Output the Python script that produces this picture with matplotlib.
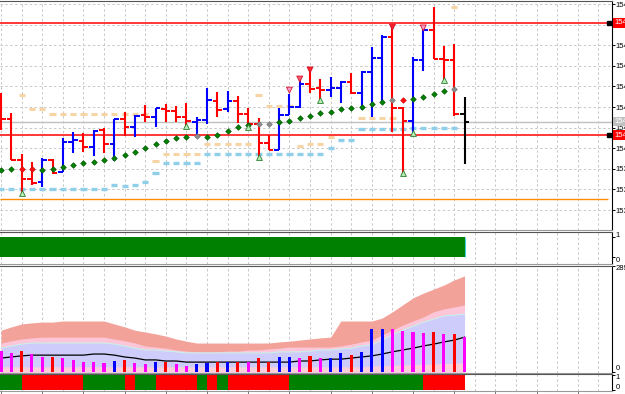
import matplotlib
matplotlib.use("Agg")
import matplotlib.pyplot as plt
from matplotlib.transforms import blended_transform_factory
import numpy as np

plt.rcParams["font.family"] = ["Liberation Sans", "DejaVu Sans"]

# ---- price bars (one per bar, oldest first) ----
opens = [154.129, 154.071, 153.971, 153.925, 153.918, 153.971, 153.942, 154.015, 154.018, 154.003,
         154.044, 154.010, 154.071, 154.052, 154.081, 154.076, 154.095, 154.090, 154.076, 154.064,
         154.068, 154.115, 154.095, 154.115, 154.083, 154.059, 154.013, 153.996, 154.081, 154.100,
         154.156, 154.146, 154.141, 154.146, 154.161, 154.134, 154.185, 154.219, 154.270, 154.098,
         154.066, 154.214, 154.287, 154.217, 154.214, 154.083]
highs = [154.134, 154.085, 153.986, 153.967, 153.976, 153.974, 154.025, 154.039, 154.037, 154.044,
         154.049, 154.071, 154.088, 154.081, 154.105, 154.098, 154.107, 154.102, 154.110, 154.076,
         154.146, 154.136, 154.139, 154.127, 154.098, 154.073, 154.032, 154.098, 154.132, 154.168,
         154.192, 154.168, 154.173, 154.163, 154.183, 154.187, 154.246, 154.275, 154.299, 154.100,
         154.221, 154.289, 154.343, 154.248, 154.253, 154.124]
lows = [154.044, 153.971, 153.891, 153.911, 153.906, 153.937, 153.942, 153.988, 153.991, 153.981,
        153.988, 153.969, 154.030, 154.027, 154.064, 154.052, 154.064, 154.064, 154.052, 154.027,
        154.059, 154.076, 154.088, 154.061, 154.052, 153.979, 153.996, 153.996, 154.081, 154.098,
        154.134, 154.117, 154.124, 154.110, 154.132, 154.093, 154.076, 154.110, 154.039, 153.935,
        154.037, 154.187, 154.217, 154.166, 154.078, 153.962]
closes = [154.071, 153.971, 153.925, 153.916, 153.971, 153.940, 154.015, 154.020, 154.003, 154.042,
          154.010, 154.071, 154.052, 154.078, 154.076, 154.098, 154.090, 154.076, 154.066, 154.068,
          154.117, 154.093, 154.115, 154.083, 154.059, 154.013, 153.996, 154.081, 154.100, 154.156,
          154.144, 154.141, 154.146, 154.161, 154.134, 154.185, 154.219, 154.270, 154.098, 154.066,
          154.214, 154.287, 154.217, 154.214, 154.083, 154.064]

# trailing stop dots (bars 0..44) and their colours
sar = [153.947, 153.950, 153.950, 153.950, 153.947, 153.950, 153.954, 153.959, 153.964, 153.967,
       153.971, 153.976, 153.984, 153.991, 154.001, 154.010, 154.018, 154.025, 154.027, 154.030,
       154.027, 154.032, 154.042, 154.052, 154.056, 154.059, 154.059, 154.064, 154.066, 154.073,
       154.078, 154.085, 154.088, 154.095, 154.098, 154.100, 154.107, 154.112, 154.117, 154.117,
       154.119, 154.124, 154.132, 154.139, 154.144]
sar_kind = "ggrrgggggggggggggggkgggggkkgggggggggggkrggggk"

# level dashes per bar (nan = none)
nan = float("nan")
level_hi = [nan, nan, 154.129, 154.095, 154.095, 154.083, 154.083, 154.083, 154.083, 154.083,
            154.083, 154.083, 154.083, 154.083, 154.083, 153.969, 153.986, 153.986, 153.986, 153.986,
            154.010, 154.010, 154.010, 154.010, 154.010, 154.129, 154.102, 154.102, 154.102, 154.005,
            154.010, 154.010, 154.027, nan, nan, 154.073, 154.073, 154.073, 154.073, nan,
            nan, nan, nan, nan, 154.343, nan]
level_lo = [153.901, 153.901, 153.901, 153.901, 153.901, 153.901, 153.901, 153.901, 153.901, 153.901,
            153.901, 153.911, 153.908, 153.911, 153.918, 153.940, 153.964, 153.964, 153.964, 153.964,
            153.986, 153.986, 153.986, 153.986, 153.986, 153.986, 153.986, 153.986, 153.986, 153.986,
            153.986, 153.986, 154.001, 154.020, 154.020, 154.047, 154.047, 154.047, 154.047, 154.047,
            154.049, 154.049, 154.049, 154.049, 154.049, nan]

# fractal arrows
up_bars = [2, 18, 24, 25, 31, 39, 40, 43]
up_prices = [153.891, 154.054, 154.052, 153.979, 154.117, 153.940, 154.037, 154.166]
down_bars = [28, 29, 30, 38, 41]
down_prices = [154.141, 154.168, 154.190, 154.294, 154.292]
down_colors = ["#ff9ec4", "#ff5a6e", "#ff2020", "#ff2020", "#ff9ec4"]

resist_lines = [154.304, 154.032]
support_line = 153.877
last_price = 154.064
price_ticks = [153.85, 153.90, 153.95, 154.00, 154.05, 154.10, 154.15, 154.20, 154.25, 154.30, 154.35]

# ---- lower panels ----
trend_flag = [1] * 46
band_top = [114, 123, 131, 134, 136, 136, 139, 139, 139, 139, 139, 131, 123, 114, 109, 104, 98, 90, 84, 79,
            79, 79, 79, 79, 79, 79, 79, 82, 84, 87, 90, 93, 95, 139, 139, 139, 139, 147, 164, 183,
            202, 215, 226, 237, 251, 262]
band_mid = [79, 85, 90, 93, 95, 95, 95, 95, 95, 95, 95, 90, 85, 79, 71, 68, 65, 60, 57, 55,
            55, 55, 57, 57, 60, 60, 63, 65, 68, 68, 68, 68, 68, 71, 76, 82, 87, 101, 114, 128,
            139, 150, 164, 172, 177, 183]
band_low = [65, 71, 76, 79, 79, 79, 79, 79, 79, 79, 79, 76, 71, 65, 60, 60, 57, 55, 52, 52,
            52, 52, 52, 52, 52, 52, 52, 55, 55, 55, 57, 60, 60, 63, 65, 71, 74, 87, 101, 114,
            125, 136, 144, 153, 155, 158]
band_floor = [14] * 36 + [16, 17, 18, 19, 20, 21, 22, 23, 24, 25]
volume = [57, 52, 57, 49, 41, 41, 38, 33, 27, 27, 25, 30, 33, 25, 22, 27, 27, 22, 16, 22,
          25, 27, 27, 27, 27, 38, 27, 41, 41, 38, 44, 38, 38, 52, 46, 55, 117, 117, 117, 112,
          109, 106, 109, 104, 104, 95]
volume_kind = "mmrmmrmmmm" + "mbrmmbrmmb" + "brbrmrrbbm" + "rmbbrbbbmm" + "mmrmrm"
volume_ma = [38, 41, 44, 46, 46, 46, 46, 46, 46, 49, 49, 46, 41, 38, 33, 33, 30, 30,
             27, 27, 27, 27, 27, 27, 27, 27, 27, 27, 27,
             30, 30, 33, 35, 35, 38, 41, 44, 49, 55, 60, 65, 71, 76, 82, 87, 95]
signal = [1, 1, 1, 0, 0, 0, 0, 0, 0, 1, 1, 1, 1, 0, 1, 1, 0, 0, 0, 0, 1, 0, 1,
          0, 0, 0, 0, 0, 0, 1, 1, 1, 1, 1, 1, 1, 1, 1, 1, 1, 1, 1, 0, 0, 0, 0]

W, H = 625, 394
fig = plt.figure(figsize=(W / 100, H / 100), dpi=100)
XMIN, XMAX = -0.1, 59.32
grid_kw = dict(color="#c8c8c8", lw=0.7, ls=(0, (2.5, 2.5)), zorder=0)
FS = 5.5


def panel(top, bottom):
    a = fig.add_axes([0, 1 - bottom / H, 612 / W, (bottom - top) / H])
    a.set_xlim(XMIN, XMAX)
    a.spines["left"].set_visible(False)
    a.spines["right"].set_color("black")
    a.spines["top"].set_color("#555555")
    a.spines["bottom"].set_color("#999999")
    a.yaxis.tick_right()
    a.tick_params(axis="y", direction="out", length=1.8, width=0.7, pad=0.4, labelsize=FS)
    a.set_xticks([])
    for gx in range(0, 60, 2):
        a.axvline(gx, **grid_kw)
    return a


def side_label(a, frac, txt):
    a.text(1.006, frac, txt, transform=a.transAxes, fontsize=FS, va="center", ha="left",
           clip_on=False)


x = np.arange(len(opens))

# main price panel
ax = panel(1, 230)
ax.set_ylim(153.8015, 154.3573)
ax.set_yticks(price_ticks)
ax.set_yticklabels(["%.3f" % t for t in price_ticks])
for t in price_ticks:
    ax.axhline(t, **grid_kw)

for i in x:
    if not np.isnan(level_hi[i]):
        ax.hlines(level_hi[i], i - 0.3, i + 0.3, color="#f6d4a4", lw=2.2, zorder=1.5)
    if not np.isnan(level_lo[i]):
        ax.hlines(level_lo[i], i - 0.3, i + 0.3, color="#8fcfea", lw=2.4, zorder=1.5)

for yv in resist_lines:
    ax.axhline(yv, color="#ff0000", lw=1.1, zorder=2)
    ax.plot(59.03, yv, marker="s", ms=3, color="black", zorder=6, clip_on=False)
ax.axhline(last_price, color="#c0c0c0", lw=1, zorder=1.8)
ax.hlines(support_line, XMIN, 58.93, color="#ff8c00", lw=1, zorder=2)

for i in x:
    if i == len(x) - 1:
        c = "black"
    elif closes[i] > opens[i]:
        c = "#0000ff"
    else:
        c = "#ff0000"
    ax.vlines(i, lows[i], highs[i], color=c, lw=1.5, zorder=3)
    ax.hlines(opens[i], i - 0.45, i, color=c, lw=1.4, zorder=3)
    ax.hlines(closes[i], i, i + 0.45, color=c, lw=1.4, zorder=3)

dot_col = {"g": "#008000", "r": "#ff1010", "k": "#8c8c8c"}
dot_edge = {"g": "#005000", "r": "#c00000", "k": "#707070"}
for i, (p, k) in enumerate(zip(sar, sar_kind)):
    ax.plot(i, p, marker="D", ms=2.9, color=dot_col[k], mec=dot_edge[k], mew=0.4, zorder=4)

ax.scatter(up_bars, up_prices, marker="^", s=18, facecolor="#b4ecb4", edgecolor="#2e7d32",
           linewidth=0.6, zorder=5)
ax.scatter(down_bars, down_prices, marker="v", s=18, facecolor=down_colors, edgecolor="#d01030",
           linewidth=0.6, zorder=5)

trans = blended_transform_factory(ax.transAxes, ax.transData)
for yv, bg in [(resist_lines[0], "#ff0000"), (resist_lines[1], "#ff0000"), (last_price, "#c0c0c0")]:
    ax.text(1.004, yv, "%.3f" % yv, transform=trans, fontsize=FS, color="white", va="center",
            ha="left", clip_on=False, zorder=10,
            bbox=dict(boxstyle="square,pad=0.15", fc=bg, ec="none"))

# trend strip
ax2 = panel(232, 264)
ax2.set_ylim(-0.35, 1.25)
ax2.bar(x - 0.5, trend_flag, width=1.0, color="#008000", zorder=2)
ax2.vlines(45, 0, 1, color="#40d0e0", lw=0.8, zorder=3)
ax2.set_yticks([0, 1])
ax2.set_yticklabels([])
side_label(ax2, 0.9, "1")
side_label(ax2, 0.12, "0")

# volume panel
ax3 = panel(266, 373)
ax3.set_ylim(-2.7, 289)
ax3.fill_between(x, 0, band_top, color="#f3a29a", lw=0, zorder=1)
ax3.fill_between(x, 0, band_mid, color="#fcc6d8", lw=0, zorder=1.1)
ax3.fill_between(x, 0, band_low, color="#cdccfa", lw=0, zorder=1.2)
ax3.plot(x, band_low, color="#c4f0ee", lw=0.8, zorder=1.3)
ax3.fill_between(x, 0, band_floor, color="#fbd0da", lw=0, zorder=1.4)
ax3.plot(x, volume_ma, color="black", lw=0.9, zorder=2.5)
vol_col = {"m": "#ff00ff", "r": "#ff0000", "b": "#0000ff"}
ax3.bar(x, volume, width=0.3, color=[vol_col[k] for k in volume_kind], zorder=3)
ax3.set_yticks([0, 289])
ax3.set_yticklabels([])
side_label(ax3, 0.975, "289")
side_label(ax3, 0.04, "0")

# signal strip
ax4 = panel(374, 391)
ax4.set_ylim(0, 1)
ax4.bar(x - 0.5, 0.88, bottom=0.06, width=1.0,
        color=["#008000" if s else "#ff0000" for s in signal], zorder=2)
ax4.set_yticks([0.06, 0.94])
ax4.set_yticklabels([])
side_label(ax4, 0.8, "1")
side_label(ax4, 0.2, "0")
ax4.set_xticks(np.arange(0, 60, 4))
ax4.tick_params(axis="x", direction="out", length=3, width=0.7, color="#777777", labelbottom=False)

fig.savefig("out.png", dpi=100)
